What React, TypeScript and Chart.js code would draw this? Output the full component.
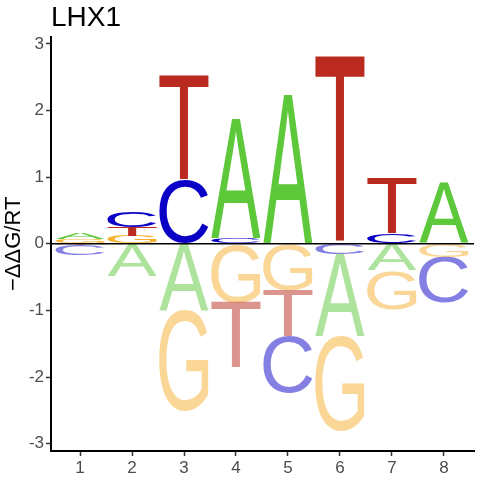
import { useEffect, useRef } from "react"
import { Chart, registerables } from "chart.js"

Chart.register(...registerables)

// positions in the motif and the four bases
const positions = [1, 2, 3, 4, 5, 6, 7, 8]
const letters = ["A", "C", "G", "T"]

// -ddG/RT per base and position
const energyA = [0.09, -0.48, -1.0, 1.78, 2.23, -1.23, -0.4, 0.91]
const energyC = [-0.15, 0.24, 0.95, 0.08, -0.84, -0.16, 0.15, -0.69]
const energyG = [0.07, 0.12, -1.52, -0.88, -0.7, -1.43, -0.58, -0.2]
const energyT = [-0.02, 0.13, 1.58, -0.99, -0.7, 2.82, 0.83, 0]

const xTicks = [1, 2, 3, 4, 5, 6, 7, 8]
const yTicks = [-3, -2, -1, 0, 1, 2, 3]

const letterColors: Record<string, string> = {
  A: "#5CC83A",
  C: "#0A00C6",
  G: "#F5B030",
  T: "#BA2A1E",
}

const energyByLetter = [energyA, energyC, energyG, energyT]

// stack letters: smallest magnitude closest to zero
const ranges = letters.map(() => [] as ([number, number] | null)[])
positions.forEach((_, i) => {
  const order = letters
    .map((_, k) => k)
    .sort((a, b) => Math.abs(energyByLetter[a][i]) - Math.abs(energyByLetter[b][i]))
  let up = 0
  let down = 0
  order.forEach((k) => {
    const v = energyByLetter[k][i]
    if (v === 0) {
      ranges[k][i] = null
    } else if (v > 0) {
      ranges[k][i] = [up, up + v]
      up += v
    } else {
      ranges[k][i] = [down + v, down]
      down += v
    }
  })
})

const FONT = '"Liberation Sans", Arial, sans-serif'

const logoPlugin = {
  id: "logoLetters",
  afterDatasetsDraw(chart: Chart) {
    const ctx = chart.ctx
    chart.data.datasets.forEach((_, k) => {
      const meta = chart.getDatasetMeta(k)
      const letter = letters[k]
      meta.data.forEach((bar: any, i: number) => {
        if (!ranges[k][i]) return
        const { x, y, base, width } = bar.getProps(["x", "y", "base", "width"], true)
        const top = Math.min(y, base)
        const h = Math.abs(base - y)
        if (h < 0.5) return
        ctx.save()
        ctx.font = `100px ${FONT}`
        ctx.textAlign = "left"
        ctx.textBaseline = "alphabetic"
        const m = ctx.measureText(letter)
        const gw = m.actualBoundingBoxLeft + m.actualBoundingBoxRight
        const gh = m.actualBoundingBoxAscent + m.actualBoundingBoxDescent
        ctx.translate(x - width / 2, top)
        ctx.scale(width / gw, h / gh)
        ctx.fillStyle = letterColors[letter]
        ctx.globalAlpha = energyByLetter[k][i] < 0 ? 0.5 : 1
        ctx.fillText(letter, m.actualBoundingBoxLeft, m.actualBoundingBoxAscent)
        ctx.restore()
      })
    })

    // zero line
    const { left, right } = chart.chartArea
    const y0 = chart.scales.y.getPixelForValue(0)
    ctx.save()
    ctx.strokeStyle = "#000"
    ctx.lineWidth = 1.5
    ctx.beginPath()
    ctx.moveTo(left, y0)
    ctx.lineTo(right, y0)
    ctx.stroke()
    ctx.restore()
  },
}

export default function App() {
  const chartRef = useRef<HTMLCanvasElement>(null)
  const chartInstance = useRef<Chart | null>(null)

  useEffect(() => {
    if (!chartRef.current) return
    if (chartInstance.current) chartInstance.current.destroy()
    const ctx = chartRef.current.getContext("2d")
    if (!ctx) return

    chartInstance.current = new Chart(ctx, {
      type: "bar",
      data: {
        datasets: letters.map((l, k) => ({
          label: l,
          data: positions.map((p, i) => ({ x: p, y: ranges[k][i] })),
          backgroundColor: "rgba(0,0,0,0)",
          borderWidth: 0,
          grouped: false,
          barPercentage: 0.95,
          categoryPercentage: 1,
        })) as any,
      },
      options: {
        responsive: true,
        maintainAspectRatio: false,
        animation: false,
        layout: { padding: { top: 0, right: 6, bottom: 0, left: 0 } },
        plugins: {
          legend: { display: false },
          tooltip: { enabled: false },
          title: {
            display: true,
            text: "LHX1",
            align: "start",
            fullSize: false,
            color: "#000",
            font: { family: FONT, size: 28, weight: "normal" },
            padding: { top: 1, bottom: 2 },
          },
        },
        scales: {
          x: {
            type: "linear",
            offset: false,
            min: 0.44,
            max: 8.58,
            afterBuildTicks: (scale: any) => {
              scale.ticks = xTicks.map((value) => ({ value }))
            },
            afterFit: (scale: any) => {
              scale.height = 29
            },
            border: { color: "#000", width: 2 },
            grid: {
              offset: false,
              drawOnChartArea: false,
              drawTicks: true,
              tickLength: 5,
              tickColor: "#333",
              tickWidth: 1.5,
            },
            ticks: {
              color: "#4D4D4D",
              padding: 2,
              font: { family: FONT, size: 17 },
            },
          },
          y: {
            type: "linear",
            min: -3.11,
            max: 3.11,
            afterBuildTicks: (scale: any) => {
              scale.ticks = yTicks.map((value) => ({ value }))
            },
            afterFit: (scale: any) => {
              scale.width = 51
            },
            border: { color: "#000", width: 2 },
            grid: {
              drawOnChartArea: false,
              drawTicks: true,
              tickLength: 5,
              tickColor: "#333",
              tickWidth: 1.5,
            },
            ticks: {
              color: "#4D4D4D",
              padding: 2,
              font: { family: FONT, size: 17 },
            },
            title: {
              display: true,
              text: "\u2212\u0394\u0394G/RT",
              color: "#000",
              font: { family: FONT, size: 22 },
              padding: { top: 1, bottom: 0 },
            },
          },
        },
      },
      plugins: [logoPlugin],
    })

    return () => {
      if (chartInstance.current) {
        chartInstance.current.destroy()
        chartInstance.current = null
      }
    }
  }, [])

  return (
    <div style={{ position: "fixed", left: 0, top: 0, width: 480, height: 480, background: "#fff" }}>
      <canvas ref={chartRef} />
    </div>
  )
}
